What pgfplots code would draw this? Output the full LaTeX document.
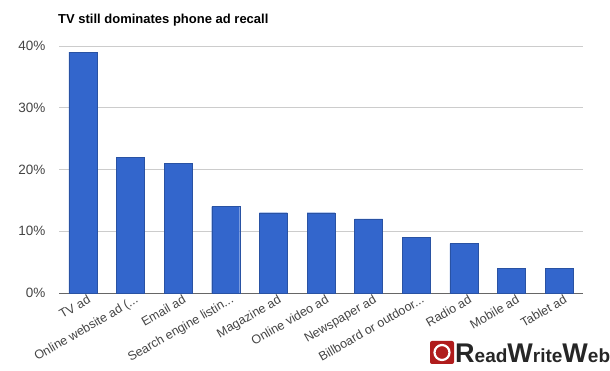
\documentclass[border=0pt]{standalone}
\usepackage{pgfplots}
\pgfplotsset{compat=1.18}
\usepackage{fontspec}
\setmainfont{Liberation Sans}
\definecolor{barblue}{HTML}{3366CC}
\definecolor{gridgray}{HTML}{CCCCCC}
\definecolor{ticktext}{HTML}{444444}
\definecolor{logored}{HTML}{B01C1C}
\newcommand{\dd}{.\kern0pt.\kern0pt.}
\begin{document}
\begin{tikzpicture}[x=1pt,y=1pt]
\useasboundingbox (0,0) rectangle (610,371);
\begin{axis}[
  at={(59pt,78pt)}, anchor=south west,
  scale only axis, width=524pt, height=247pt,
  xmin=-0.5, xmax=10.5, ymin=0, ymax=40,
  ytick={0,10,20,30,40},
  yticklabel={\pgfmathprintnumber{\tick}\%},
  /pgf/number format/assume math mode=true,
  xtick={0,...,10},
  xticklabels={{TV ad},{Online website ad (\dd},{Email ad},{Search engine listin\dd},{Magazine ad},{Online video ad},{Newspaper ad},{Billboard or outdoor\dd},{Radio ad},{Mobile ad},{Tablet ad}},
  xticklabel style={rotate=30, anchor=north east, font=\fontsize{12.5}{12.5}\selectfont, text=ticktext, inner sep=1pt, xshift=4pt, yshift=-2pt},
  yticklabel style={font=\fontsize{13.5}{13.5}\selectfont, text=ticktext, xshift=-10pt},
  major tick length=0pt,
  ymajorgrids, grid style={gridgray, line width=0.8pt},
  axis x line=bottom, axis y line=left,
  x axis line style={color=gray!80!black, line width=0.8pt, -},
  y axis line style={draw=none},
  ybar, bar width=28pt,
  clip=false,
]
\addplot[fill=barblue, draw=barblue!80!black, line width=0.4pt] coordinates {
(0,39) (1,22) (2,21) (3,14) (4,13) (5,13) (6,12) (7,9) (8,8) (9,4) (10,4)};
\end{axis}
\node[anchor=west, font=\bfseries\fontsize{13}{13}\selectfont, inner sep=0pt] at (58,351) {TV still dominates phone ad recall};
% logo
\fill[logored, rounded corners=2pt] (430,7) rectangle (454,30);
\draw[white, line width=2.2pt] (442,18.5) circle (7.5);
\node[anchor=west, inner sep=0pt, font=\bfseries\fontsize{22}{22}\selectfont, text=black!85] at (455,18) {\fontsize{27}{27}\selectfont R\fontsize{19}{19}\selectfont ead\fontsize{27}{27}\selectfont W\fontsize{19}{19}\selectfont rite\fontsize{27}{27}\selectfont W\fontsize{19}{19}\selectfont eb};
\end{tikzpicture}
\end{document}
